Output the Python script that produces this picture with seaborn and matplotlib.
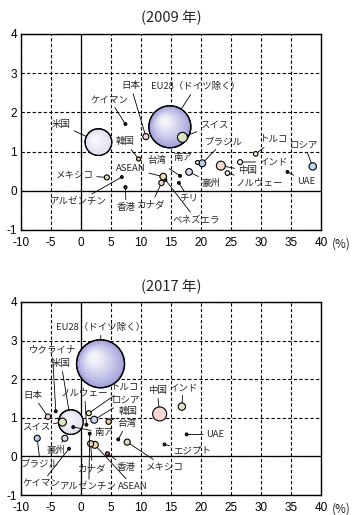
import numpy as np
import pandas as pd
import matplotlib
matplotlib.use("Agg")
import matplotlib.pyplot as plt
import matplotlib.transforms as mtransforms
from matplotlib.colors import to_rgb
import seaborn as sns

# ---- data ----
names_2009 = ["EU28（ドイツ除く）", "米国", "中国", "スイス", "ロシア", "ブラジル", "豪州",
              "ASEAN", "日本", "カナダ", "メキシコ", "インド", "トルコ", "ノルウェー",
              "韓国", "南ア", "ケイマン", "アルゼンチン", "香港", "台湾", "チリ", "UAE",
              "ベネズエラ"]
x_2009 = [14.8, 2.9, 23.3, 16.9, 38.6, 20.2, 18.0, 13.7, 10.8, 13.4, 4.3, 26.5, 29.1,
          24.4, 9.6, 19.4, 7.4, 6.8, 7.4, 16.5, 16.3, 34.4, 14.1]
y_2009 = [1.63, 1.24, 0.64, 1.36, 0.62, 0.70, 0.48, 0.36, 1.38, 0.20, 0.34, 0.73, 0.94,
          0.45, 0.81, 0.72, 1.70, 0.35, 0.09, 0.38, 0.20, 0.48, 0.27]
size_2009 = [914, 367, 42, 52, 28, 25, 23, 23, 19, 15, 13, 13, 11, 11, 9, 8, 4, 4, 5,
             4, 4, 4, 3]

names_2017 = ["EU28（ドイツ除く）", "米国", "中国", "スイス", "インド", "ロシア", "ASEAN",
              "カナダ", "ブラジル", "豪州", "メキシコ", "日本", "韓国", "トルコ", "香港",
              "ウクライナ", "南ア", "ノルウェー", "アルゼンチン", "ケイマン", "台湾",
              "エジプト", "UAE"]
x_2017 = [3.25, -1.7, 13.1, -3.1, 16.8, 2.2, 2.3, 1.6, -7.3, -2.7, 7.7, -5.5, 4.6, 1.3,
          4.4, -4.2, -1.3, 0.9, 1.45, -2.0, 6.2, 13.9, 17.6]
y_2017 = [2.40, 0.89, 1.10, 0.89, 1.29, 0.95, 0.30, 0.33, 0.47, 0.47, 0.37, 1.03, 0.90,
          1.12, 0.07, 1.17, 0.76, 0.82, 0.59, 0.20, 0.44, 0.31, 0.57]
size_2017 = [1194, 314, 102, 33, 28, 25, 25, 19, 19, 19, 19, 15, 15, 13, 8, 4, 4, 4, 4,
             4, 4, 4, 4]

x_ticks = list(range(-10, 41, 5))
y_ticks = list(range(-1, 5))

# ---- layout / style ----
label_pos_2009 = {
    "EU28（ドイツ除く）": (19.1, 2.65), "日本": (8.3, 2.67), "ケイマン": (4.8, 2.32),
    "米国": (-3.3, 1.68), "韓国": (7.3, 1.25), "メキシコ": (-1.1, 0.40),
    "アルゼンチン": (-0.5, -0.28), "香港": (7.5, -0.43), "ASEAN": (8.3, 0.56),
    "台湾": (12.7, 0.76), "カナダ": (11.7, -0.36), "南ア": (16.9, 0.84),
    "ブラジル": (23.7, 1.25), "スイス": (22.2, 1.68), "トルコ": (32.2, 1.30),
    "ロシア": (37.2, 1.17), "インド": (32.0, 0.74), "中国": (27.7, 0.51),
    "ノルウェー": (29.8, 0.20), "豪州": (21.7, 0.20), "UAE": (37.5, 0.23),
    "チリ": (18.0, -0.21), "ベネズエラ": (19.2, -0.74),
}
label_pos_2017 = {
    "EU28（ドイツ除く）": (3.3, 3.34), "ウクライナ": (-4.8, 2.76), "米国": (-3.3, 2.40),
    "日本": (-8.0, 1.58), "スイス": (-7.5, 0.76), "ノルウェー": (0.6, 1.63),
    "トルコ": (7.4, 1.78), "ロシア": (7.5, 1.46), "韓国": (7.8, 1.17),
    "台湾": (7.6, 0.85), "南ア": (3.8, 0.61), "メキシコ": (14.0, -0.28),
    "香港": (7.6, -0.28), "中国": (12.7, 1.70), "インド": (17.0, 1.78),
    "UAE": (22.4, 0.56), "エジプト": (18.5, 0.13), "ASEAN": (8.7, -0.78),
    "アルゼンチン": (1.3, -0.79), "カナダ": (1.9, -0.31), "ケイマン": (-6.6, -0.70),
    "豪州": (-4.2, 0.16), "ブラジル": (-6.8, -0.19),
}
DOT = "#2b2222"
colors_2009 = {
    "EU28（ドイツ除く）": "#9c9cd8", "米国": "#e2dcee", "中国": "#f7d9cf", "スイス": "#d6e6c4",
    "ロシア": "#c6d6ee", "ブラジル": "#b9cdea", "豪州": "#e3dbef", "ASEAN": "#f6dca8",
    "日本": "#f5d3d8", "カナダ": "#f8dcd0", "メキシコ": "#d4e4b8", "インド": "#ffffff",
    "トルコ": "#ecf0c8", "ノルウェー": "#f2f0f6", "韓国": "#ebc26e", "南ア": "#f3e3e3",
    "ケイマン": DOT, "アルゼンチン": DOT, "香港": "#6b2828", "台湾": DOT, "チリ": DOT,
    "UAE": DOT, "ベネズエラ": DOT,
}
colors_2017 = {
    "EU28（ドイツ除く）": "#9c9cd8", "米国": "#e2dcee", "中国": "#f8d8d0", "スイス": "#d8e8c0",
    "インド": "#d6e8c6", "ロシア": "#c8d8f0", "ASEAN": "#f7dbae", "カナダ": "#f8d8c8",
    "ブラジル": "#c0d0ec", "豪州": "#e4dcf0", "メキシコ": "#d4e4c0", "日本": "#f4d4d8",
    "韓国": "#f2cd8c", "トルコ": "#e6eebc", "香港": "#c46a6a", "ウクライナ": DOT,
    "南ア": DOT, "ノルウェー": DOT, "アルゼンチン": DOT, "ケイマン": DOT, "台湾": DOT,
    "エジプト": DOT, "UAE": DOT,
}
BIG = 200  # bubbles above this area get a sphere-like shading
TICK_FONT = ["Liberation Sans", "DejaVu Sans"]

sns.set_theme(style="white")
plt.rcParams["font.family"] = ["Noto Sans CJK JP", "DejaVu Sans"]


def shade_bubble(ax, x, y, s, color, n=14):
    """Fake a lit sphere: stacked lighter discs drifting to the upper left."""
    R = np.sqrt(s) / 2
    base = np.array(to_rgb(color))
    hi = np.array([0.97, 0.97, 0.99])
    for k in range(1, n):
        f = k / n
        r = R * (1 - 0.85 * f)
        d = (R - r) * 0.35
        off = mtransforms.ScaledTranslation(-d / 72, d / 72, ax.figure.dpi_scale_trans)
        ax.scatter([x], [y], s=(2 * r) ** 2, color=base + (hi - base) * f ** 0.8,
                   linewidths=0, transform=ax.transData + off, zorder=2.2)
    ax.scatter([x], [y], s=s, facecolors="none", edgecolors="black",
               linewidths=0.9, zorder=2.5)


def draw_panel(ax, names, xs, ys, sizes, colors, label_pos, title):
    df = pd.DataFrame({"name": names, "x": xs, "y": ys, "s": sizes})
    df = df.sort_values("s", ascending=False)
    big = df[df["s"] > BIG]
    small = df[df["s"] <= BIG]
    sns.scatterplot(data=big, x="x", y="y", hue="name", palette=colors,
                    size="name", sizes=dict(zip(big["name"], big["s"])),
                    edgecolor="black", linewidth=0.9, legend=False, ax=ax, zorder=2)
    for _, row in big.iterrows():
        shade_bubble(ax, row["x"], row["y"], row["s"], colors[row["name"]])
    sns.scatterplot(data=small, x="x", y="y", hue="name", palette=colors,
                    size="name", sizes=dict(zip(small["name"], small["s"])),
                    edgecolor="black", linewidth=0.8, legend=False, ax=ax, zorder=3)

    ax.set_xlim(-10, 40)
    ax.set_ylim(-1, 4)
    ax.set_xticks(x_ticks)
    ax.set_yticks(y_ticks)
    ax.set_xticklabels([str(t) for t in x_ticks], family=TICK_FONT, fontsize=8.5)
    ax.set_yticklabels([str(t) for t in y_ticks], family=TICK_FONT, fontsize=8.5)
    ax.tick_params(axis="x", length=0, pad=5.2, colors="black")
    ax.tick_params(axis="y", length=0, pad=3, colors="black")
    ax.set_xlabel("")
    ax.set_ylabel("")
    ax.grid(True, color="black", linestyle=(0, (3, 2)), linewidth=0.8)
    ax.axhline(0, color="black", linewidth=0.9, zorder=1)
    ax.axvline(0, color="black", linewidth=0.9, zorder=1)
    for sp in ax.spines.values():
        sp.set_color("black")
        sp.set_linewidth(1.0)
        sp.set_zorder(4)
    ax.annotate("(%)", xy=(1, 0), xycoords="axes fraction", xytext=(8, -5.2),
                textcoords="offset points", ha="left", va="top", fontsize=8.5)
    ax.set_title(title, fontsize=10.5, pad=8)

    for name, x, y, s in zip(names, xs, ys, sizes):
        tx, ty = label_pos[name]
        ax.annotate(name, xy=(x, y), xytext=(tx, ty), ha="center", va="center",
                    fontsize=6.8, zorder=5,
                    arrowprops=dict(arrowstyle="-", color="black", lw=0.6,
                                    shrinkA=0, shrinkB=np.sqrt(s) / 2))


fig = plt.figure(figsize=(3.56, 5.15), dpi=100)
ax1 = fig.add_axes([0.059, 0.5534, 0.843, 0.381])
ax2 = fig.add_axes([0.059, 0.0388, 0.843, 0.3748])

draw_panel(ax1, names_2009, x_2009, y_2009, size_2009, colors_2009, label_pos_2009, "(2009 年)")
draw_panel(ax2, names_2017, x_2017, y_2017, size_2017, colors_2017, label_pos_2017, "(2017 年)")

fig.savefig("out.png", dpi=100)
